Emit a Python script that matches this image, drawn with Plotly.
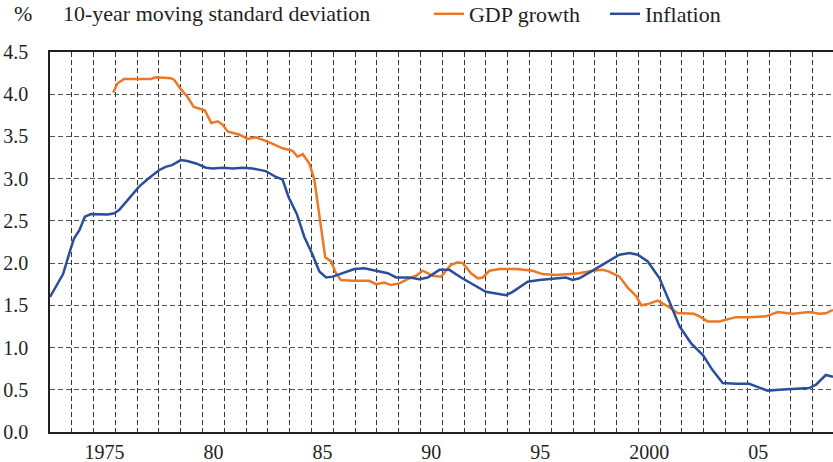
import plotly.graph_objects as go

# ---- data ----
gdp_years = [1975.9, 1976.1, 1976.4, 1976.95, 1977.63, 1977.86, 1978.55, 1978.7, 1979.0, 1979.3,
             1979.6, 1980.1, 1980.4, 1980.7, 1980.92, 1981.15, 1981.7, 1982.07, 1982.45, 1983.07,
             1983.67, 1984.13, 1984.36, 1984.6, 1984.9, 1985.13, 1985.36, 1985.63, 1985.9, 1986.12,
             1986.35, 1986.89, 1987.65, 1987.96, 1988.34, 1988.65, 1989.03, 1989.41, 1989.8, 1990.1,
             1990.57, 1990.95, 1991.4, 1991.71, 1991.94, 1992.32, 1992.63, 1992.86, 1993.17, 1993.63,
             1994.4, 1995.15, 1995.6, 1996.22, 1996.83, 1997.28, 1997.9, 1998.36, 1998.66, 1999.13,
             1999.51, 1999.9, 2000.13, 2000.5, 2000.88, 2001.27, 2001.8, 2002.2, 2002.55, 2002.87,
             2003.17, 2003.71, 2004.0, 2004.48, 2005.09, 2005.86, 2006.39, 2007.08, 2007.84, 2008.3,
             2008.6, 2008.93]
gdp_values = [4.02, 4.13, 4.18, 4.18, 4.18, 4.20, 4.19, 4.17, 4.06, 3.97,
              3.85, 3.81, 3.66, 3.68, 3.64, 3.56, 3.52, 3.47, 3.49, 3.43,
              3.36, 3.33, 3.26, 3.29, 3.18, 2.99, 2.55, 2.07, 2.02, 1.88,
              1.80, 1.79, 1.79, 1.75, 1.77, 1.74, 1.76, 1.81, 1.85, 1.91,
              1.85, 1.84, 1.98, 2.01, 2.00, 1.88, 1.82, 1.83, 1.91, 1.93,
              1.93, 1.91, 1.87, 1.86, 1.87, 1.88, 1.91, 1.92, 1.90, 1.84,
              1.71, 1.61, 1.50, 1.52, 1.555, 1.50, 1.41, 1.40, 1.40, 1.36,
              1.31, 1.31, 1.33, 1.36, 1.36, 1.37, 1.42, 1.40, 1.42, 1.40,
              1.405, 1.445]

infl_years = [1973.0, 1973.6, 1973.89, 1974.1, 1974.35, 1974.6, 1974.88, 1975.34, 1975.65, 1975.95,
              1976.18, 1976.64, 1977.1, 1977.56, 1978.0, 1978.3, 1978.6, 1979.0, 1979.3, 1979.7,
              1980.16, 1980.46, 1980.92, 1981.38, 1981.84, 1982.3, 1982.9, 1983.37, 1983.67, 1983.95,
              1984.33, 1984.67, 1985.05, 1985.36, 1985.67, 1985.97, 1986.58, 1986.97, 1987.42, 1988.03,
              1988.5, 1988.88, 1989.5, 1989.95, 1990.33, 1990.87, 1991.33, 1991.86, 1992.32, 1993.0,
              1993.47, 1993.93, 1994.23, 1994.92, 1995.45, 1996.22, 1996.68, 1996.98, 1997.29, 1997.9,
              1998.52, 1999.13, 1999.59, 1999.97, 2000.43, 2000.97, 2001.43, 2001.89, 2002.42, 2002.96,
              2003.41, 2003.87, 2004.48, 2005.09, 2005.55, 2005.93, 2006.46, 2007.08, 2007.84, 2008.15,
              2008.6, 2008.93]
infl_values = [1.60, 1.87, 2.12, 2.29, 2.39, 2.55, 2.58, 2.58, 2.575, 2.59,
               2.63, 2.77, 2.91, 3.01, 3.10, 3.14, 3.16, 3.22, 3.21, 3.18,
               3.13, 3.12, 3.13, 3.12, 3.13, 3.12, 3.09, 3.02, 2.99, 2.78,
               2.58, 2.31, 2.10, 1.90, 1.83, 1.84, 1.89, 1.93, 1.94, 1.91,
               1.88, 1.83, 1.83, 1.81, 1.83, 1.92, 1.92, 1.83, 1.76, 1.66,
               1.64, 1.62, 1.66, 1.78, 1.80, 1.82, 1.83, 1.80, 1.82, 1.91,
               2.01, 2.10, 2.12, 2.10, 2.02, 1.82, 1.54, 1.25, 1.05, 0.91,
               0.73, 0.58, 0.57, 0.57, 0.525, 0.49, 0.50, 0.51, 0.52, 0.56,
               0.675, 0.655]

x_tick_vals = [1975.5, 1980.5, 1985.5, 1990.5, 1995.5, 2000.5, 2005.5]
x_tick_text = ["1975", "80", "85", "90", "95", "2000", "05"]

series_names = ["GDP growth", "Inflation"]
y_title = "%"
chart_title = "10-year moving standard deviation"

ORANGE = "#EF7623"
BLUE = "#2A4E9C"
TEXT = "#231F20"
FONT = "Liberation Serif"

fig = go.Figure()
fig.add_trace(go.Scatter(x=gdp_years, y=gdp_values, mode="lines", name=series_names[0],
                         line=dict(color=ORANGE, width=2.5)))
fig.add_trace(go.Scatter(x=infl_years, y=infl_values, mode="lines", name=series_names[1],
                         line=dict(color=BLUE, width=2.5)))

fig.update_layout(
    width=833, height=462,
    margin=dict(l=50, r=0, t=52, b=30, autoexpand=False),
    paper_bgcolor="white", plot_bgcolor="white",
    font=dict(family=FONT, size=20, color=TEXT),
    showlegend=True,
    legend=dict(orientation="h", x=0.484, xanchor="left", y=1.1, yanchor="middle",
                entrywidth=131,
                font=dict(family=FONT, size=22, color=TEXT), bgcolor="rgba(0,0,0,0)"),
    annotations=[
        dict(text=y_title, xref="paper", yref="paper", x=-0.049, y=1.1, xanchor="left",
             yanchor="middle", showarrow=False, font=dict(family=FONT, size=22, color=TEXT)),
        dict(text=chart_title, xref="paper", yref="paper", x=0.0135, y=1.1, xanchor="left",
             yanchor="middle", showarrow=False, font=dict(family=FONT, size=22, color=TEXT)),
    ],
)

fig.update_xaxes(
    range=[1973, 2008.93],
    tickmode="array", tickvals=x_tick_vals, ticktext=x_tick_text,
    showgrid=False, zeroline=False,
    ticks="", ticklabelstandoff=1,
    showline=True, linecolor=TEXT, linewidth=1.5, mirror=True,
    minor=dict(tickmode="linear", tick0=1973, dtick=1, showgrid=True,
               gridcolor="#333333", griddash="5px,3px", gridwidth=1, ticks=""),
)
fig.update_yaxes(
    range=[0, 4.5], tickmode="linear", tick0=0, dtick=0.5, tickformat=".1f",
    showgrid=True, gridcolor="#555555", griddash="5px,3px", gridwidth=1,
    zeroline=False, ticks="", ticklabelstandoff=16,
    showline=True, linecolor=TEXT, linewidth=1.5,
)

fig.write_html("out.html", config={"displayModeBar": False},
               post_script="document.body.style.margin='0';")
